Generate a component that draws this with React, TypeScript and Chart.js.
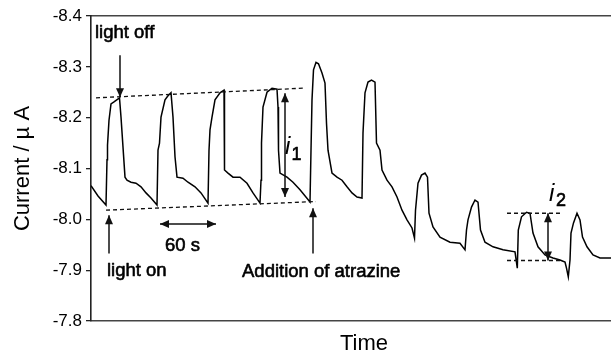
import React, { useEffect, useRef } from "react";
import { Chart, registerables } from "chart.js";

Chart.register(...registerables);

// ---- data (time in arbitrary units, current in µA) ----
const timeValues = [
  0, 7, 15, 16, 16.5, 18, 20, 23, 28.5, 30, 32, 34, 36, 40, 45, 50, 55, 60, 66,
  67, 68.5, 70, 74, 77, 80, 82, 84, 86, 92, 97, 104, 110, 117,
  118, 119, 121, 124, 129, 133, 133.5, 137, 142, 149, 156, 162, 169,
  170, 170.5, 172, 176, 181, 186, 187, 187.5, 189, 196, 202, 209, 219,
  220, 221, 222.5, 225, 227.5, 231, 234, 235.5, 237, 241, 246, 251, 256, 261, 266, 271,
  272, 274, 277, 280.5, 284, 285.5, 289, 291, 296, 301, 306, 311, 316, 321, 323.5,
  324.5, 327, 330.5, 334, 336.5, 338, 342, 349, 359, 369, 374,
  375.5, 377, 380.5, 384, 387, 389.5, 394, 402, 412, 424, 426.3,
  427.3, 430.5, 435.5, 439, 442, 447, 454, 462, 469, 474, 475.5, 477.3,
  479, 480, 482.5, 486, 489, 491.5, 496, 502, 509, 520,
];
const currentValues = [
  -8.066, -8.046, -8.028, -8.117, -8.146, -8.195, -8.227, -8.231, -8.239, -8.201, -8.142, -8.083, -8.077, -8.073, -8.071, -8.064, -8.052, -8.042, -8.028,
  -8.136, -8.15, -8.201, -8.235, -8.243, -8.249, -8.201, -8.123, -8.083, -8.081, -8.073, -8.064, -8.052, -8.032,
  -8.136, -8.176, -8.201, -8.235, -8.249, -8.254, -8.097, -8.091, -8.083, -8.083, -8.071, -8.052, -8.032,
  -8.077, -8.15, -8.221, -8.25, -8.258, -8.256, -8.221, -8.136, -8.091, -8.083, -8.073, -8.058, -8.034,
  -8.136, -8.235, -8.294, -8.309, -8.306, -8.288, -8.268, -8.189, -8.136, -8.091, -8.083, -8.077, -8.064, -8.052, -8.044, -8.042,
  -8.17, -8.249, -8.27, -8.274, -8.27, -8.15, -8.136, -8.097, -8.077, -8.064, -8.044, -8.018, -7.999, -7.983, -7.963,
  -8.018, -8.071, -8.087, -8.091, -8.083, -8.012, -7.985, -7.965, -7.955, -7.953, -7.94,
  -7.979, -7.999, -8.024, -8.038, -8.034, -7.979, -7.955, -7.946, -7.94, -7.936, -7.904,
  -7.979, -8.005, -8.014, -8.012, -7.973, -7.946, -7.93, -7.924, -7.92, -7.916, -7.904, -7.887,
  -7.92, -7.973, -7.993, -8.012, -7.999, -7.965, -7.946, -7.93, -7.924, -7.924,
];
const yTickValues = [-8.4, -8.3, -8.2, -8.1, -8.0, -7.9, -7.8];
const timeRange = [0, 520];

// annotations in data units
const dashedSegments = [
  [5, -8.239, 212, -8.258],
  [15, -8.018, 225, -8.035],
  [416, -8.012, 471, -8.012],
  [416, -7.919, 471, -7.919],
];
// [x1, y1, x2(tip), y2(tip), doubleHeaded]
const arrowSegments: [number, number, number, number, boolean][] = [
  [29, -8.323, 29, -8.24, false],
  [18, -7.933, 18, -8.008, false],
  [222, -7.933, 222, -8.022, false],
  [69, -7.991, 125, -7.991, true],
  [194, -8.248, 194, -8.044, true],
  [457, -8.012, 457, -7.919, true],
];
const textNotes = [
  { text: "light off", t: 4, v: -8.367 },
  { text: "light on", t: 16, v: -7.898 },
  { text: "60 s", t: 74, v: -7.948 },
  { text: "Addition of atrazine", t: 151, v: -7.896 },
];
const currentSymbols = [
  { sub: "1", t: 194, v: -8.128, subT: 200.5, subV: -8.117 },
  { sub: "2", t: 458, v: -8.036, subT: 465, subV: -8.026 },
];
const xTitleText = "Time";
const xTitleAt = 273;

const FONT = "'Liberation Sans', Arial, Helvetica, sans-serif";

const annotationPlugin = {
  id: "annotations",
  afterDatasetsDraw(chart: any) {
    const { ctx, scales, chartArea } = chart;
    const xs = scales.x;
    const ys = scales.y;
    const px = (t: number) => xs.getPixelForValue(t);
    const py = (v: number) => ys.getPixelForValue(v);
    ctx.save();
    // dashed lines
    ctx.strokeStyle = "#111";
    ctx.lineWidth = 1.3;
    ctx.setLineDash([4, 3]);
    for (const [x1, y1, x2, y2] of dashedSegments) {
      ctx.beginPath();
      ctx.moveTo(px(x1), py(y1));
      ctx.lineTo(px(x2), py(y2));
      ctx.stroke();
    }
    ctx.setLineDash([]);
    // arrows
    const head = (tx: number, ty: number, fx: number, fy: number) => {
      const ang = Math.atan2(ty - fy, tx - fx);
      const L = 9;
      const W = 4;
      ctx.beginPath();
      ctx.moveTo(tx, ty);
      ctx.lineTo(tx - L * Math.cos(ang) + W * Math.sin(ang), ty - L * Math.sin(ang) - W * Math.cos(ang));
      ctx.lineTo(tx - L * Math.cos(ang) - W * Math.sin(ang), ty - L * Math.sin(ang) + W * Math.cos(ang));
      ctx.closePath();
      ctx.fill();
    };
    ctx.fillStyle = "#111";
    ctx.lineWidth = 1.5;
    for (const [x1, y1, x2, y2, dbl] of arrowSegments) {
      const ax = px(x1), ay = py(y1), bx = px(x2), by = py(y2);
      ctx.beginPath();
      ctx.moveTo(ax, ay);
      ctx.lineTo(bx, by);
      ctx.stroke();
      head(bx, by, ax, ay);
      if (dbl) head(ax, ay, bx, by);
    }
    // text notes (slightly heavier than regular)
    ctx.fillStyle = "#000";
    ctx.strokeStyle = "#000";
    ctx.lineWidth = 0.6;
    ctx.lineJoin = "round";
    ctx.font = `18.5px ${FONT}`;
    ctx.textAlign = "left";
    ctx.textBaseline = "middle";
    for (const n of textNotes) {
      ctx.fillText(n.text, px(n.t), py(n.v));
      ctx.strokeText(n.text, px(n.t), py(n.v));
    }
    // current symbols i1, i2
    ctx.textBaseline = "alphabetic";
    for (const s of currentSymbols) {
      ctx.font = `italic 24px ${FONT}`;
      ctx.fillText("i", px(s.t), py(s.v));
      ctx.font = `18px ${FONT}`;
      ctx.fillText(s.sub, px(s.subT), py(s.subV));
      ctx.strokeText(s.sub, px(s.subT), py(s.subV));
    }
    // x title
    ctx.font = `22px ${FONT}`;
    ctx.textAlign = "center";
    ctx.textBaseline = "middle";
    ctx.fillText(xTitleText, px(xTitleAt), chartArea.bottom + 23);
    ctx.restore();
  },
};

export default function App() {
  const canvasRef = useRef<HTMLCanvasElement | null>(null);

  useEffect(() => {
    const canvas = canvasRef.current;
    if (!canvas) return;
    const points = timeValues.map((t, i) => ({ x: t, y: currentValues[i] }));
    const chart = new Chart(canvas, {
      type: "line",
      data: {
        datasets: [
          {
            data: points,
            borderColor: "#000",
            borderWidth: 1.5,
            pointRadius: 0,
            tension: 0,
            fill: false,
          },
        ],
      },
      options: {
        animation: false,
        responsive: false,
        devicePixelRatio: 1,
        layout: { padding: { top: 16, right: 0, bottom: 0, left: 0 } },
        plugins: {
          legend: { display: false },
          tooltip: { enabled: false },
        },
        scales: {
          x: {
            type: "linear",
            min: timeRange[0],
            max: timeRange[1],
            ticks: { display: false },
            grid: { display: false },
            border: { display: true, color: "#444", width: 1.6 },
            afterFit: (s: any) => {
              s.height = 35;
            },
          },
          xTop: {
            type: "linear",
            position: "top",
            min: timeRange[0],
            max: timeRange[1],
            ticks: { display: false },
            grid: { display: false },
            border: { display: true, color: "#444", width: 1.6 },
            afterFit: (s: any) => {
              s.height = 0;
            },
          },
          y: {
            type: "linear",
            reverse: true,
            min: -8.4,
            max: -7.8,
            afterBuildTicks: (s: any) => {
              s.ticks = yTickValues.map((v) => ({ value: v }));
            },
            ticks: {
              color: "#000",
              font: { family: FONT, size: 17 },
              padding: 4,
              callback: (v: any) => Number(v).toFixed(1),
            },
            grid: {
              display: true,
              drawOnChartArea: false,
              drawTicks: true,
              tickLength: 5,
              color: "#222",
              lineWidth: 1.3,
            },
            border: { display: true, color: "#222", width: 1.6 },
            title: {
              display: true,
              text: "Current / µ A",
              color: "#000",
              font: { family: FONT, size: 22 },
              padding: { top: 10, bottom: 0 },
            },
            afterFit: (s: any) => {
              s.width = 91;
            },
          },
        },
      },
      plugins: [annotationPlugin],
    });
    return () => chart.destroy();
  }, []);

  return (
    <div
      style={{
        position: "fixed",
        left: 0,
        top: 0,
        width: 611,
        height: 356,
        background: "#fff",
        overflow: "hidden",
      }}
    >
      <canvas ref={canvasRef} width={611} height={356} />
    </div>
  );
}
